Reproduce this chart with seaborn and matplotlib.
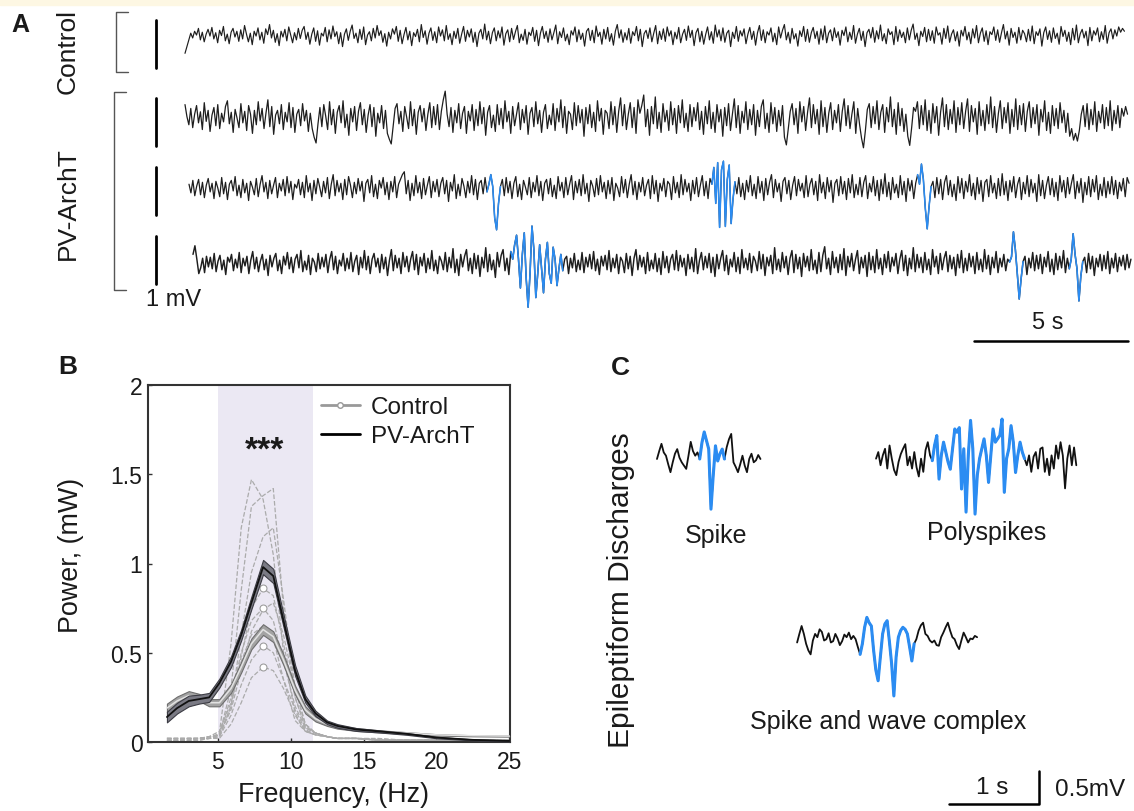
import numpy as np
import matplotlib
matplotlib.use("Agg")
import matplotlib.pyplot as plt
import seaborn as sns
from matplotlib import font_manager
from matplotlib.lines import Line2D
from matplotlib.patches import Rectangle

# ---------------- data ----------------
# Panel A: EEG traces, values in 0.01 mV, ~16 samples per second
control_trace = [
    -34, -20, -6, 8, -2, 12, 4, 18, -6, 10,
    -10, 6, 16, 2, 20, -4, 9, -12, 14, 3,
    22, -8, 6, -14, 10, 18, 0, 12, -9, 15,
    -4, 24, 6, -10, 8, -16, 12, 2, 19, -6,
    10, -13, 17, 5, 26, -2, 14, -11, 7, -18,
    12, 0, 16, -8, 21, 4, -12, 9, -6, 18,
    -3, 14, 22, -5, 10, -15, 6, 19, -9, 13,
    -17, 8, 2, 20, -10, 15, -4, 23, 1, 11,
    -14, 9, -20, 6, 17, -7, 12, 25, -3, 8,
    -12, 16, -5, 21, -16, 4, 11, -8, 18, -2,
    24, 3, 13, -11, 7, -19, 10, -4, 17, 6,
    22, -9, 14, -14, 5, 20, -6, 12, -18, 9,
    1, 16, -10, 26, -1, 13, -15, 8, 19, -7,
    11, -12, 21, 2, 15, -8, 24, -5, 7, -16,
    12, -3, 18, -13, 6, 22, -9, 14, 0, 17,
    -11, 10, -20, 8, 16, -4, 27, -6, 12, -14,
    9, 19, -8, 13, -2, 21, -17, 7, 15, -10,
    18, -5, 11, 24, -12, 6, -7, 16, -15, 10,
    3, 20, -9, 14, -18, 8, 22, -3, 12, -11,
    17, -6, 9, 25, -14, 11, -1, 19, -8, 6,
    -16, 13, 4, 21, -10, 15, -5, 8, -19, 12,
    18, -7, 14, -12, 23, 1, 10, -15, 16, -4,
    20, -9, 7, -17, 12, 26, -2, 15, -11, 9,
    -6, 18, -13, 11, 3, 22, -8, 16, -20, 7,
    14, -3, 19, -10, 8, 24, -14, 12, -5, 17,
    -9, 21, 2, 13, -16, 10, -4, 20, -12, 6,
    16, -7, 23, -1, 14, -18, 9, 18, -10, 12,
    -15, 5, 21, -6, 11, -13, 25, 0, 15, -8,
    19, -11, 8, 14, -20, 10, -3, 22, -9, 13,
    2, 17, -14, 6, 20, -5, 12, -17, 9, 24,
    -7, 15, -12, 11, 4, 19, -10, 8, -16, 21,
    -2, 14, 26, -6, 10, -13, 18, -4, 7, -19,
    13, 1, 22, -9, 16, -11, 9, 20, -3, 12,
    -15, 17, -6, 23, -12, 8, 15, -8, 19, -1,
    11, -17, 14, 3, 21, -10, 10, -5, 24, -13,
    6, 18, -7, 12, -20, 9, 16, -2, 20, -11,
    13, -4, 25, -8, 7, -14, 17, 5, 11, -16,
    22, -9, 15, -1, 10, -12, 19, -6, 14, 27,
    -5, 8, -18, 12, 1, 20, -10, 16, -7, 13,
    -13, 21, 4, 9, -15, 18, -3, 23, -11, 6,
    15, -8, 11, -19, 14, 2, 22, -6, 10, -14,
    17, -2, 24, -12, 8, 19, -9, 13, -16, 11,
    5, 21, -7, 15, -11, 9, 26, -4, 12, -17,
    18, -1, 10, -13, 20, -6, 14, 7, -10, 16,
    -8, 23, -14, 11, 3, 17, -19, 9, 21, -5,
    13, -11, 19, -3, 8, -15, 22, 1, 14, -9,
    10, -16, 18, -6, 25, -12, 7, 16, -2, 12,
    -18, 20, -8, 13, 4, 19, -10, 11, -5, 24,
    -13, 9, 17, -4, 15, 2, 21, 10, 18, 12,
]
pv_trace_1 = [
    30, 5, -12, 22, -18, 10, 28, -8, 15, -22,
    34, -5, 18, -26, 8, 24, -14, 30, -20, 12,
    -6, 26, 38, -10, 14, -28, 20, 2, -18, 32,
    -8, 16, -24, 28, 10, -30, 18, -12, 36, -4,
    22, -20, 12, 40, -16, 26, -32, 8, 18, -10,
    30, -22, 14, -6, 34, -18, 24, -28, 10, 20,
    -14, 32, -4, 18, -26, 12, -20, -38, -50, -10,
    24, -16, 30, 6, -22, 36, -12, 20, -30, 14,
    28, -8, 38, -18, 10, -34, 22, -6, 26, -24,
    16, 34, -12, 20, -28, 8, 30, -16, 24, -36,
    12, -8, 28, -20, 18, -30, -42, -52, -14, 22,
    32, -10, 16, -26, 26, 4, -20, 36, -14, 20,
    -32, 14, 28, -6, 22, -24, 10, 34, -18, 26,
    -12, 30, -22, 16, 40, 58, 10, -16, 24, -28,
    18, -8, 32, -20, 12, 26, -30, 16, -4, 30,
    -24, 20, -14, 36, -10, 24, -34, 14, 28, -18,
    8, -26, 30, -12, 22, -20, 38, -6, 16, -30,
    26, -14, 10, 34, -22, 20, -8, 28, -32, 12,
    24, -16, 36, -10, 18, -28, 14, 30, -20, 8,
    -12, 32, -24, 22, -6, 40, -18, 26, -30, 16,
    10, -22, 34, -14, 28, -8, 20, -36, 24, -10,
    30, -18, 14, -26, 38, -4, 22, -32, 18, 12,
    -20, 36, -12, 26, -28, 16, 44, -14, 30, -22,
    10, 34, -18, 24, -30, 40, 12, 28, 50, -16,
    20, -34, 26, -10, 46, -20, 14, -28, 32, -6,
    18, -24, 36, -12, 22, -30, 28, -8, 40, -18,
    12, -26, 30, -16, 24, -4, 34, -22, 16, -32,
    26, -10, 38, -20, 14, -28, 30, -6, 20, -36,
    24, -14, 32, -24, 10, 42, -18, 28, -30, 16,
    -8, 36, -22, 20, -12, 30, -34, 18, -16, 26,
    40, -20, 12, -28, 34, -10, 24, -26, 18, -14,
    28, -38, -54, -20, 16, 32, -12, 22, -30, 36,
    -6, 26, -24, 14, 44, -18, 30, -10, 20, -32,
    38, -16, 24, -28, 12, 34, -22, 18, -8, 30,
    -26, 16, 42, -14, 28, -20, 10, 36, -30, 22,
    -12, -40, -60, -24, 20, 32, -18, 26, -10, 38,
    -22, 14, 30, -28, 24, -6, 46, -16, 20, -32,
    34, -14, 22, -26, 10, -36, -55, -18, 24, 16,
    36, -20, 28, -12, 40, -24, 18, -30, 32, -8,
    26, -34, 14, 44, -16, 30, -22, 20, -10, 38,
    -28, 24, -12, 34, -20, 16, 42, -26, 28, -6,
    22, -32, 36, -14, 18, -24, 30, -10, 46, -18,
    26, -28, 12, 38, -20, 24, -8, 34, -30, 20,
    -16, 42, -22, 28, -12, 32, -26, 16, 36, -18,
    24, -10, 30, -34, 20, -6, 38, -24, 14, -30,
    28, -14, 22, -20, 34, -8, 18, -28, 12, -36,
    -20, -44, -30, -46, -24, 10, 28, -16, 32, -22,
    20, -12, 36, -26, 16, -8, 30, -20, 24, -14,
    38, -24, 18, -10, 28, -18, 22, 6, 26, 10,
]
pv_trace_2 = [
    10, -8, 18, -14, 6, 20, -12, 14, -18, 8,
    22, -6, 12, -20, 16, 2, -16, 24, -10, 14,
    -22, 10, 18, -4, 26, -14, 8, -18, 20, -8,
    12, -24, 16, 4, -12, 22, -16, 10, 28, -6,
    14, -20, 18, -10, 8, 24, -18, 12, -4, 20,
    -14, 26, -8, 16, -22, 10, 2, 20, -12, 14,
    -18, 28, -6, 12, -24, 18, -10, 22, 4, -16,
    16, -8, 24, -20, 10, 30, -14, 18, -6, 12,
    -22, 20, -12, 26, 8, -18, 14, -10, 22, -4,
    16, -26, 12, 20, -8, 28, -16, 10, -20, 18,
    2, 24, -12, 14, -22, 16, -6, 26, -18, 10,
    20, 30, 36, -10, 18, -24, 12, -14, 28, -8,
    14, -20, 22, -12, 8, 26, -18, 16, -6, 20,
    -16, 12, 24, -10, 18, -26, 14, -4, 30, -20,
    10, -14, 22, 6, -18, 16, -8, 28, -12, 20,
    -22, 12, 18, -10, 24, -6, 10, 30, 5, -60,
    -85, -30, 5, 20, -14, 24, -8, 16, -20, 12,
    26, -16, 10, -22, 18, 4, -12, 24, -18, 14,
    -6, 28, -14, 16, -24, 12, 20, -10, 22, -16,
    8, -20, 26, -4, 14, -18, 24, -12, 10, 28,
    -22, 16, -8, 20, -14, 30, -10, 12, -26, 18,
    6, -16, 22, -12, 28, -6, 14, -20, 18, -10,
    24, -24, 12, 2, -16, 26, -8, 20, -18, 10,
    30, -12, 16, -22, 14, -6, 24, -14, 8, 20,
    -20, 28, -10, 18, -26, 12, -4, 22, -16, 16,
    10, -22, 26, -8, 14, -18, 30, -12, 20, -6,
    12, -24, 18, -10, 24, -16, 8, 28, -14, 16,
    -20, 22, 10, 45, -30, 55, -80, 40, 58, -78,
    20, 50, -72, -20, 15, -10, 24, -16, 12, -22,
    18, -6, 28, -14, 10, -20, 26, -8, 16, -24,
    22, -12, 14, 30, -18, 20, -6, 12, -26, 16,
    24, -10, 18, -22, 8, 26, -14, 20, -4, 12,
    -18, 28, -16, 10, 22, -12, 16, -24, 30, -8,
    14, -20, 24, -6, 18, -28, 12, 20, -14, 26,
    -10, 16, -22, 22, -8, 30, -18, 10, -12, 24,
    -16, 14, 28, -20, 12, -6, 26, -14, 18, -24,
    20, -10, 32, -16, 14, -22, 24, -8, 10, -18,
    28, -12, 16, -26, 22, -4, 18, -20, 12, 30,
    10, 52, 20, -40, -83, -35, 5, 16, -18, 24,
    -10, 20, -22, 14, 28, -12, 18, -16, 10, -24,
    26, -8, 22, -20, 16, -6, 30, -14, 12, -22,
    24, -10, 18, -26, 14, 20, -16, 28, -8, 12,
    -20, 22, -14, 32, -12, 16, -24, 18, -6, 26,
    -18, 10, 24, -22, 14, -10, 28, -16, 20, -8,
    12, -26, 30, -14, 18, -20, 8, 26, -12, 22,
    -16, 14, -24, 28, -6, 18, -18, 24, -10, 12,
    30, -20, 16, -8, 22, -28, 14, -12, 26, -16,
    20, -6, 28, -22, 10, -14, 24, -18, 16, -10,
    26, -12, 18, -20, 14, -4, 22, -16, 24, 12,
]
pv_trace_3 = [
    20, 38, 10, -20, -8, 12, -18, 16, -6, 14,
    -10, 22, -16, 6, 18, -12, 8, -22, 14, 4,
    20, -14, 10, -8, 24, -18, 12, -4, 16, -20,
    8, 26, -10, 14, -16, 6, 20, -12, 10, -24,
    18, -6, 12, 22, -14, 8, -20, 16, -2, 24,
    -10, 14, -18, 10, 20, -8, 28, -16, 6, -12,
    18, -22, 12, 4, -16, 22, -10, 14, -6, 20,
    -18, 10, 26, -12, 16, -20, 8, -4, 22, -14,
    12, -10, 24, -16, 6, 18, -22, 14, -8, 28,
    -12, 16, -20, 10, 22, -6, 12, -18, 20, -10,
    14, -24, 8, 30, -14, 18, -8, 12, -20, 24,
    -6, 16, -16, 10, 26, -12, 20, -22, 14, -4,
    22, -18, 12, -10, 28, -14, 8, -20, 16, 6,
    -12, 24, -16, 14, -8, 32, -18, 10, -24, 20,
    -6, 16, 30, -14, 12, -20, 22, -10, 18, -26,
    14, -8, 34, -16, 20, -12, 8, -28, 24, -6,
    18, 30, -14, 12, -22, 26, 10, 40, 60, 10,
    -50, 20, 65, -30, -90, -20, 79, 30, -70, -20,
    40, -10, -60, 10, 45, -20, -40, 35, 10, -45,
    -10, 20, -14, 10, 16, -20, 12, -8, 22, -16,
    8, -12, 24, -18, 14, -6, 20, -10, 26, -14,
    10, -22, 16, -4, 18, -12, 28, -16, 12, -8,
    20, -20, 14, 6, -18, 22, -10, 16, -24, 12,
    30, -12, 18, -6, 14, -20, 24, -14, 8, -10,
    22, -16, 12, -22, 26, -8, 16, -18, 10, 20,
    -12, 28, -14, 18, -6, 12, -24, 20, -10, 14,
    -16, 32, -20, 8, 24, -12, 16, -8, 22, -18,
    14, -26, 20, -10, 12, 28, -14, 18, -22, 10,
    -6, 24, -16, 14, -20, 30, -8, 12, -12, 22,
    -18, 16, 6, -14, 26, -10, 20, -24, 14, -4,
    18, -20, 34, -12, 10, -16, 24, -8, 16, -22,
    12, 28, -18, 20, -10, 14, -26, 22, -6, 16,
    -14, 30, -12, 8, -20, 24, -16, 18, 36, -10,
    12, -22, 26, -8, 14, -18, 20, -12, 32, -24,
    16, -6, 22, -14, 10, 28, -20, 14, -8, 18,
    -26, 24, -12, 16, -18, 30, -10, 12, -22, 20,
    -8, 26, -16, 14, -4, 22, -20, 10, 28, -14,
    18, -24, 12, -10, 34, -16, 20, -8, 14, -18,
    24, -12, 10, -22, 30, -6, 16, -20, 22, -12,
    12, 26, -16, 18, -10, 14, -24, 20, -8, 28,
    -18, 12, -14, 22, -6, 16, -20, 24, -12, 10,
    -16, 30, -10, 18, -22, 14, -8, 26, -18, 12,
    -6, 20, -14, 10, 4, 15, 67, 30, -20, -73,
    -30, 5, 16, -22, 12, -8, 24, -14, 18, -10,
    20, -20, 14, -6, 26, -16, 10, -22, 22, -12,
    16, -8, 28, -18, 12, -10, 10, 63, 20, -10,
    -77, -25, 5, 14, -18, 22, -10, 16, -24, 12,
    -6, 20, -14, 18, -10, 26, -20, 12, -8, 22,
    -16, 14, -4, 18, -12, 20, -8, 10,
]
# sample index ranges drawn in blue (epileptiform events)
control_events = []
pv_events_1 = []
pv_events_2 = [(155, 162), (272, 284), (379, 386)]
pv_events_3 = [(165, 192), (424, 431), (455, 462)]

# Panel B: power spectra
freqs = [1.5, 2.2, 3.0, 3.7, 4.4, 5.1, 5.9, 6.6, 7.3, 8.1, 8.8, 9.5,
         10.3, 11.0, 11.7, 12.5, 13.2, 14.5, 16, 18, 20, 22.5, 25]
pv_mean = [0.14, 0.19, 0.23, 0.24, 0.25, 0.33, 0.45, 0.60, 0.78, 0.98, 0.93, 0.68,
           0.40, 0.24, 0.16, 0.11, 0.09, 0.07, 0.06, 0.045, 0.025, 0.012, 0.006]
pv_sem = [0.03, 0.03, 0.03, 0.025, 0.025, 0.025, 0.03, 0.03, 0.035, 0.04, 0.04, 0.035,
          0.03, 0.02, 0.015, 0.01, 0.01, 0.008, 0.006, 0.005, 0.004, 0.003, 0.003]
control_mean = [0.19, 0.23, 0.26, 0.25, 0.22, 0.22, 0.30, 0.42, 0.55, 0.63, 0.59, 0.46,
                0.29, 0.18, 0.13, 0.10, 0.085, 0.07, 0.06, 0.05, 0.04, 0.035, 0.033]
control_sem = [0.025, 0.025, 0.025, 0.02, 0.02, 0.02, 0.025, 0.03, 0.03, 0.03, 0.03, 0.03,
               0.025, 0.02, 0.015, 0.01, 0.01, 0.008, 0.006, 0.005, 0.004, 0.003, 0.003]
# single animals (dashed)
pv_animals = [
    [0.02, 0.02, 0.02, 0.02, 0.02, 0.05, 0.55, 1.20, 1.47, 1.36, 1.05, 0.50,
     0.16, 0.06, 0.04, 0.03, 0.02, 0.02, 0.02, 0.01, 0.01, 0.01, 0.01],
    [0.02, 0.02, 0.02, 0.02, 0.03, 0.04, 0.30, 0.85, 1.32, 1.38, 1.42, 0.75,
     0.25, 0.08, 0.05, 0.03, 0.02, 0.02, 0.015, 0.01, 0.01, 0.01, 0.01],
    [0.01, 0.01, 0.01, 0.02, 0.02, 0.04, 0.20, 0.60, 0.95, 1.15, 1.20, 0.80,
     0.30, 0.10, 0.05, 0.03, 0.02, 0.02, 0.01, 0.01, 0.01, 0.01, 0.01],
    [0.01, 0.01, 0.02, 0.02, 0.02, 0.04, 0.18, 0.40, 0.62, 0.74, 0.78, 0.60,
     0.30, 0.10, 0.05, 0.03, 0.02, 0.02, 0.01, 0.01, 0.01, 0.01, 0.01],
    [0.02, 0.02, 0.02, 0.02, 0.03, 0.06, 0.22, 0.45, 0.60, 0.65, 0.58, 0.35,
     0.12, 0.06, 0.04, 0.03, 0.02, 0.02, 0.01, 0.01, 0.01, 0.01, 0.01],
]
control_animals = [
    [0.01, 0.01, 0.01, 0.01, 0.02, 0.03, 0.20, 0.48, 0.75, 0.86, 0.82, 0.55,
     0.25, 0.09, 0.05, 0.03, 0.02, 0.02, 0.015, 0.01, 0.01, 0.01, 0.01],
    [0.02, 0.02, 0.02, 0.02, 0.03, 0.04, 0.25, 0.50, 0.68, 0.75, 0.68, 0.45,
     0.20, 0.08, 0.05, 0.03, 0.02, 0.02, 0.015, 0.01, 0.01, 0.01, 0.01],
    [0.01, 0.01, 0.01, 0.02, 0.02, 0.03, 0.15, 0.32, 0.46, 0.54, 0.50, 0.35,
     0.18, 0.07, 0.04, 0.03, 0.02, 0.02, 0.01, 0.01, 0.01, 0.01, 0.01],
    [0.01, 0.01, 0.01, 0.01, 0.02, 0.02, 0.10, 0.22, 0.36, 0.42, 0.40, 0.30,
     0.15, 0.06, 0.04, 0.03, 0.02, 0.02, 0.01, 0.01, 0.01, 0.01, 0.01],
]
control_peak_idx = 9
theta_band = (5.0, 11.5)

# Panel C: example discharges, values in 0.01 mV, one sample every 0.025 s
spike_trace = [
    0, 12, 23, 10, 5, -8, -20, -5, 8, 15,
    2, -5, -10, -15, 5, 26, 12, 5, 10, 0,
    25, 41, 28, 15, -76, -25, 20, -3, 8, 15,
    0, 18, 30, 38, -5, -12, -20, -8, 5, -10,
    -20, 0, 8, -5, -2, 6, 0,
]
polyspike_trace = [
    5, 15, -5, 10, 20, -10, 25, 5, -12, -20,
    0, 12, 20, 27, -5, 8, -10, 15, -8, -22,
    5, -15, 18, 30, 10, 2, 25, 40, -26, 10,
    30, 15, 0, -11, 20, 50, 45, 52, -41, 20,
    -76, 10, 63, 20, -79, -20, 5, 20, 35, 10,
    -31, 10, 50, 30, 35, 40, 65, -46, 5, 20,
    55, 30, -16, 10, 30, 15, 5, -5, 10, -15,
    8, 15, -10, 20, 22, -15, 5, -20, 10, -10,
    25, 5, 30, 10, -40, 5, 25, -5, 22, -5,
]
spike_wave_trace = [
    -8, 5, 17, 5, -10, -20, -26, -5, 5, 0,
    12, 8, -5, -3, 6, -8, -6, 5, -2, -12,
    -6, 4, 0, 7, -3, 2, -3, -15, -26, -10,
    15, 30, 22, 17, -20, -50, -66, -30, 5, 20,
    25, -6, -40, -89, -30, 0, 10, 15, 12, 5,
    -15, -36, -10, -3, 10, 18, 22, 5, 2, -5,
    -8, -5, -12, -13, 0, 7, 15, 22, 10, 0,
    -3, -12, -18, -5, 7, 0, -8, -2, -3, 2,
    0,
]
spike_event = (19, 30)
polyspike_event = (25, 66)
spike_wave_event = (28, 52)

# ---------------- style ----------------
W, H = 1134, 812
BLUE = "#2b8cf2"
INK = "#1a1a1a"
sns.set_theme(style="white")
plt.rcParams["font.family"] = ["Liberation Sans", "DejaVu Sans"]
plt.rcParams["text.color"] = INK
names = {f.name for f in font_manager.fontManager.ttflist}
narrow = "Liberation Sans Narrow" if "Liberation Sans Narrow" in names else "Liberation Sans"
tick_size = 17.5 if narrow == "Liberation Sans Narrow" else 16.5


def fx(px):
    return px / W


def fy(py):
    return 1 - py / H


def trace(ax, t, v, color, lw):
    sns.lineplot(x=t, y=v, ax=ax, color=color, linewidth=lw,
                 estimator=None, sort=False)


fig = plt.figure(figsize=(W / 100, H / 100), dpi=100)
fig.patches.append(Rectangle((0, fy(6)), 1, 6 / H, transform=fig.transFigure,
                             color="#fdf7e3", zorder=0))

# ---------------- panel A ----------------
ax_a = fig.add_axes([0, fy(350), 1, 350 / H])
ax_a.set_xlim(-6.006, 30.81)
ax_a.set_ylim(-6.5, 0.792)
ax_a.axis("off")

rows = [
    (control_trace, (0.0, 30.5), 0.0, control_events, 0.85),
    (pv_trace_1, (0.0, 30.6), -1.708, pv_events_1, 0.9),
    (pv_trace_2, (0.13, 30.65), -3.167, pv_events_2, 0.9),
    (pv_trace_3, (0.26, 30.71), -4.729, pv_events_3, 1.05),
]
for vals, (t0, t1), off, events, lw in rows:
    t = np.linspace(t0, t1, len(vals))
    v = off + np.array(vals) / 100
    trace(ax_a, t, v, "#1e1e1e", lw)
    for a, b in events:
        trace(ax_a, t[a:b + 1], v[a:b + 1], BLUE, 1.15)

# 1 mV scale bars next to each row
for top, bot in [(0.354, -0.646), (-1.271, -2.271), (-2.708, -3.708), (-4.146, -5.146)]:
    ax_a.plot([-0.94, -0.94], [top, bot], color="black", lw=2)
# group brackets
ax_a.plot([-1.85, -2.24, -2.24, -1.85], [0.521, 0.521, -0.729, -0.729], color="#555555", lw=1)
ax_a.plot([-1.92, -2.31, -2.31, -1.92], [-1.146, -1.146, -5.271, -5.271], color="#555555", lw=1)
ax_a.text(-0.36, -5.458, "1 mV", ha="center", va="center", fontsize=17)
ax_a.plot([25.62, 30.62], [-6.333, -6.333], color="black", lw=1.8)
ax_a.text(28.0, -5.94, "5 s", ha="center", va="center", fontsize=17)

fig.text(fx(20), fy(25), "A", fontsize=18, fontweight="bold", ha="center", va="center")
fig.text(fx(68), fy(52), "Control", rotation=90, fontsize=19, ha="center", va="center")
fig.text(fx(68), fy(204), "PV-ArchT", rotation=90, fontsize=19, ha="center", va="center")

# ---------------- panel B ----------------
ax_b = fig.add_axes([fx(148), fy(743), (510 - 148) / W, (743 - 386) / H])
ax_b.axvspan(*theta_band, color="#ebe8f3", lw=0, zorder=0)

for vals in pv_animals:
    sns.lineplot(x=freqs, y=vals, ax=ax_b, color="#ababab", linewidth=0.9,
                 linestyle="--", zorder=2)
for vals in control_animals:
    sns.lineplot(x=freqs, y=vals, ax=ax_b, color="#ababab", linewidth=0.9,
                 linestyle="--", marker="o", markevery=[control_peak_idx],
                 markersize=5, markerfacecolor="white", markeredgecolor="#999999",
                 zorder=2)

pv_m, pv_s = np.array(pv_mean), np.array(pv_sem)
ct_m, ct_s = np.array(control_mean), np.array(control_sem)
ax_b.fill_between(freqs, ct_m - ct_s, ct_m + ct_s, facecolor="#a3a3a3",
                  edgecolor="#6e6e6e", lw=0.8, zorder=3)
sns.lineplot(x=freqs, y=control_mean, ax=ax_b, color="#e2e2e2", linewidth=1.1, zorder=4)
ax_b.fill_between(freqs, pv_m - pv_s, pv_m + pv_s, facecolor="#7a7a84",
                  edgecolor="#3c3c44", lw=0.8, zorder=5)
sns.lineplot(x=freqs, y=pv_mean, ax=ax_b, color="#111111", linewidth=1.3, zorder=6)

ax_b.text(8.2, 1.59, "***", ha="center", va="baseline", fontsize=24, fontweight="bold")

ax_b.set_xlim(0.2, 25.05)
ax_b.set_ylim(0, 2)
ax_b.set_xticks([5, 10, 15, 20, 25])
ax_b.set_yticks([0, 0.5, 1, 1.5, 2])
ax_b.set_yticklabels(["0", "0.5", "1", "1.5", "2"])
ax_b.tick_params(direction="in", length=3, width=1, color="#333333",
                 labelsize=tick_size, labelcolor=INK, left=True, bottom=True)
ax_b.tick_params(axis="y", pad=4)
ax_b.tick_params(axis="x", pad=6)
for lab in ax_b.get_xticklabels() + ax_b.get_yticklabels():
    lab.set_fontfamily(narrow)
for sp in ax_b.spines.values():
    sp.set_color("#333333")
    sp.set_linewidth(1.5)
    sp.set_visible(True)
ax_b.set_xlabel("")
ax_b.set_ylabel("")

handles = [
    Line2D([0], [0], color="#999999", lw=2, marker="o", markersize=4,
           markerfacecolor="white", markeredgecolor="#999999"),
    Line2D([0], [0], color="black", lw=2),
]
leg = fig.legend(handles, ["Control", "PV-ArchT"], loc="upper left",
                 bbox_to_anchor=(fx(321), fy(397)), frameon=False, fontsize=17.5,
                 borderpad=0, borderaxespad=0, handlelength=1.6, handletextpad=0.45,
                 labelspacing=0.3)
for txt in leg.get_texts():
    txt.set_color(INK)

fig.text(fx(68), fy(367), "B", fontsize=19, fontweight="bold", ha="center", va="center")
fig.text(fx(71), fy(555), "Power, (mW)", rotation=90, fontsize=19.4, ha="center", va="center")
fig.text(fx(334), fy(795), "Frequency, (Hz)", fontsize=19.4, ha="center", va="center")

# ---------------- panel C ----------------
ax_c = fig.add_axes([fx(600), fy(812), (1134 - 600) / W, (812 - 340) / H])
ax_c.set_xlim(0, 5.933)
ax_c.set_ylim(-5.333, 1.818)
ax_c.axis("off")

examples = [
    (spike_trace, 0.633, 0.0, spike_event),
    (polyspike_trace, 3.067, -0.045, polyspike_event),
    (spike_wave_trace, 2.19, -2.70, spike_wave_event),
]
for vals, t0, off, (a, b) in examples:
    t = t0 + 0.025 * np.arange(len(vals))
    v = off + np.array(vals) / 100
    trace(ax_c, t, v, "#111111", 1.3)
    trace(ax_c, t[a:b + 1], v[a:b + 1], BLUE, 2.2)

ax_c.plot([3.878, 4.878, 4.878], [-5.227, -5.227, -4.727], color="black", lw=1.8)
fig.text(fx(992), fy(788), "1 s", fontsize=17.5, ha="center", va="center")
fig.text(fx(1090), fy(790), "0.5mV", fontsize=17.5, ha="center", va="center")

fig.text(fx(620), fy(368), "C", fontsize=19, fontweight="bold", ha="center", va="center")
fig.text(fx(621), fy(590), "Epileptiform Discharges", rotation=90, fontsize=21.5,
         ha="center", va="center")
fig.text(fx(716), fy(536), "Spike", fontsize=18, ha="center", va="center")
fig.text(fx(987), fy(533), "Polyspikes", fontsize=18, ha="center", va="center")
fig.text(fx(888), fy(722), "Spike and wave complex", fontsize=18, ha="center", va="center")

fig.savefig("out.png", dpi=100)
